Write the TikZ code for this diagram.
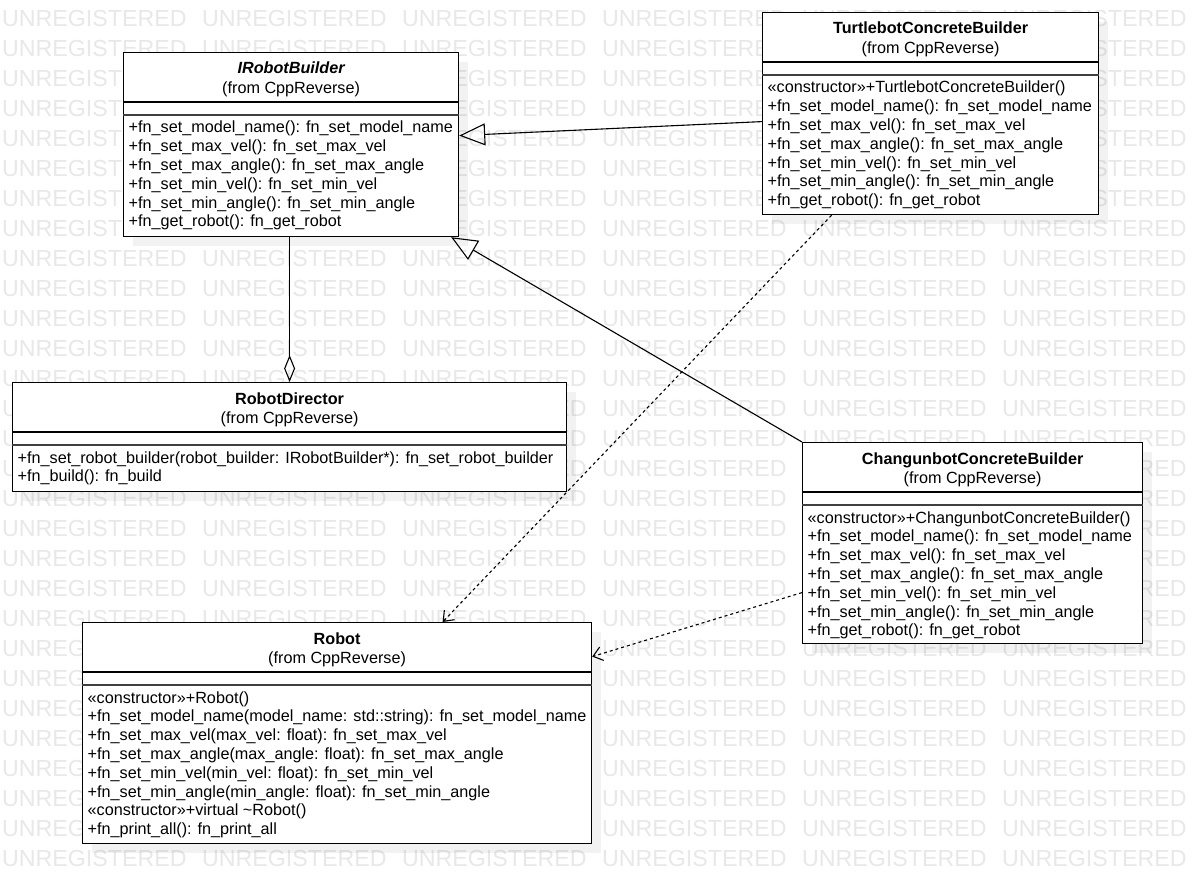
\documentclass[tikz,border=0pt]{standalone}
\usepackage{fontspec}
\setmainfont{Liberation Sans}
\usetikzlibrary{arrows.meta,shadows}
\tikzset{
  classbox/.style={draw=black, line width=1.2pt, fill=white, anchor=north west, inner sep=0pt,
    drop shadow={shadow xshift=9pt, shadow yshift=-9pt, fill=black, opacity=0.05}},
  ttl/.style={font=\fontsize{16.2}{18.8}\selectfont\bfseries, anchor=base, inner sep=0pt},
  subttl/.style={font=\fontsize{16.2}{18.8}\selectfont, anchor=base, inner sep=0pt},
  mline/.style={font=\fontsize{16.2}{18.8}\selectfont, anchor=base west, inner sep=0pt},
  wm/.style={font=\fontsize{23.2}{24}\selectfont, text=black!9, anchor=west, inner sep=0pt},
  gen/.style={line width=1.1pt, -{Triangle[open,length=26pt,width=22pt,line width=1.1pt]}},
  agg/.style={line width=1.1pt, {Diamond[open,length=27pt,width=11pt,line width=1.1pt]}-},
  dep/.style={line width=1.1pt, dash pattern=on 3pt off 3pt, -{Straight Barb[length=9pt,width=14pt,line width=1.1pt]}},
  divone/.style={line width=1.1pt},
  divtwo/.style={line width=1.8pt, draw=black!75},
}
\newcommand\umlmethods[2]{%
  \foreach \t [count=\i from 0] in {#2} {%
    \node[mline] (#1-m\i) at ([xshift=5.5pt,yshift={-81pt-\i*18.8pt}]#1.north west) {\t};}}
\newcommand\umlhead[2]{%
  \node[ttl] (#1-t) at ([yshift=-22pt]#1.north) {#2};
  \node[subttl] (#1-s) at ([yshift=-41.5pt]#1.north) {(from CppReverse)};
  \draw[divone] ([yshift=-50pt]#1.north west) -- ([yshift=-50pt]#1.north east);
  \draw[divtwo] ([yshift=-63pt]#1.north west) -- ([yshift=-63pt]#1.north east);}
\begin{document}
\begin{tikzpicture}[x=1pt,y=-1pt]
\useasboundingbox[fill=white] (0,0) rectangle (1192,893);
% watermark
\foreach \r in {0,...,28}{
  \foreach \c in {0,...,5}{
    \node[wm] (wm-\r-\c) at ({2+200*\c},{18.5+30*\r}) {UNREGISTERED};
  }
}
% class boxes
\node[classbox, minimum width=335pt, minimum height=184pt] (irb) at (123,52) {};
\node[classbox, minimum width=336pt, minimum height=202pt] (tcb) at (762,12) {};
\node[classbox, minimum width=554pt, minimum height=109pt] (rd) at (12,382) {};
\node[classbox, minimum width=340pt, minimum height=201pt] (ccb) at (802,442) {};
\node[classbox, minimum width=509pt, minimum height=221pt] (rob) at (82,622) {};

\umlhead{irb}{\itshape IRobotBuilder}
\umlhead{tcb}{TurtlebotConcreteBuilder}
\umlhead{rd}{RobotDirector}
\umlhead{ccb}{ChangunbotConcreteBuilder}
\umlhead{rob}{Robot}

\umlmethods{irb}{+fn\_set\_model\_name(): fn\_set\_model\_name,
  +fn\_set\_max\_vel(): fn\_set\_max\_vel,
  +fn\_set\_max\_angle(): fn\_set\_max\_angle,
  +fn\_set\_min\_vel(): fn\_set\_min\_vel,
  +fn\_set\_min\_angle(): fn\_set\_min\_angle,
  +fn\_get\_robot(): fn\_get\_robot}
\umlmethods{tcb}{«constructor»+TurtlebotConcreteBuilder(),
  +fn\_set\_model\_name(): fn\_set\_model\_name,
  +fn\_set\_max\_vel(): fn\_set\_max\_vel,
  +fn\_set\_max\_angle(): fn\_set\_max\_angle,
  +fn\_set\_min\_vel(): fn\_set\_min\_vel,
  +fn\_set\_min\_angle(): fn\_set\_min\_angle,
  +fn\_get\_robot(): fn\_get\_robot}
\umlmethods{rd}{+fn\_set\_robot\_builder(robot\_builder: IRobotBuilder*): fn\_set\_robot\_builder,
  +fn\_build(): fn\_build}
\umlmethods{ccb}{«constructor»+ChangunbotConcreteBuilder(),
  +fn\_set\_model\_name(): fn\_set\_model\_name,
  +fn\_set\_max\_vel(): fn\_set\_max\_vel,
  +fn\_set\_max\_angle(): fn\_set\_max\_angle,
  +fn\_set\_min\_vel(): fn\_set\_min\_vel,
  +fn\_set\_min\_angle(): fn\_set\_min\_angle,
  +fn\_get\_robot(): fn\_get\_robot}
\umlmethods{rob}{«constructor»+Robot(),
  +fn\_set\_model\_name(model\_name: std::string): fn\_set\_model\_name,
  +fn\_set\_max\_vel(max\_vel: float): fn\_set\_max\_vel,
  +fn\_set\_max\_angle(max\_angle: float): fn\_set\_max\_angle,
  +fn\_set\_min\_vel(min\_vel: float): fn\_set\_min\_vel,
  +fn\_set\_min\_angle(min\_angle: float): fn\_set\_min\_angle,
  «constructor»+virtual \textasciitilde Robot(),
  +fn\_print\_all(): fn\_print\_all}

% connectors
\draw[gen] ([yshift=-8pt]tcb.west) -- ([yshift=9pt]irb.east);
\draw[gen] (ccb.north west) -- ([xshift=-8pt]irb.south east);
\draw[agg] (rd.north) -- (rd.north |- irb.south);
\draw[dep] ([xshift=-99pt]tcb.south) -- ([xshift=105.5pt]rob.north);
\draw[dep] ([yshift=-49.5pt]ccb.west) -- ([yshift=76.5pt]rob.east);
\end{tikzpicture}
\end{document}
